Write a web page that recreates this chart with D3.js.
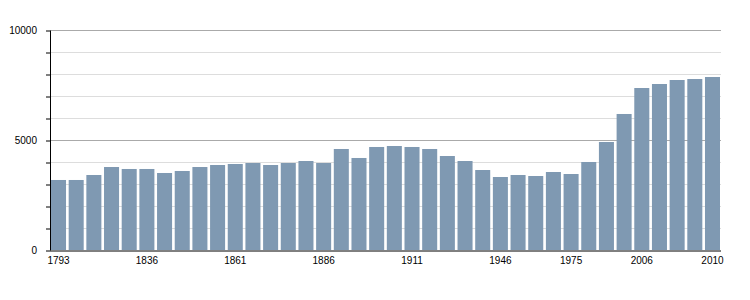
<!DOCTYPE html>
<html>
<head>
<meta charset="utf-8">
<script src="https://cdn.jsdelivr.net/npm/d3@7"></script>
<style>
  body { margin: 0; background: #fff; }
  text { font-family: "Liberation Sans", Arial, sans-serif; }
</style>
</head>
<body>
<div id="chart"></div>
<script>
const years = ["1793", "1800", "1806", "1821", "1831", "1836", "1841", "1846", "1851", "1856",
               "1861", "1866", "1872", "1876", "1881", "1886", "1891", "1896", "1901", "1906",
               "1911", "1921", "1926", "1931", "1936", "1946", "1954", "1962", "1968", "1975",
               "1982", "1990", "1999", "2006", "2007", "2008", "2009", "2010"];
const population = [3205, 3205, 3432, 3795, 3705, 3705, 3523, 3614, 3795, 3886,
                    3932, 3977, 3886, 3977, 4068, 3977, 4614, 4205, 4705, 4750,
                    4705, 4614, 4295, 4068, 3659, 3341, 3432, 3386, 3568, 3477,
                    4023, 4932, 6205, 7386, 7568, 7750, 7795, 7886];
const yearLabels = ["1793", "1836", "1861", "1886", "1911", "1946", "1975", "2006", "2010"];
const yTicks = [0, 5000, 10000];

const width = 750, height = 300;
const plotLeft = 50, plotRight = 721, plotTop = 30.5, plotBottom = 250.5;

const svg = d3.select("#chart")
              .append("svg")
              .attr("width", width)
              .attr("height", height);

const xScale = d3.scaleBand()
                 .domain(years)
                 .range([plotLeft + 1, plotRight - 1])
                 .paddingInner(0.15)
                 .paddingOuter(0);

const yScale = d3.scaleLinear()
                 .domain([0, 10000])
                 .range([plotBottom, plotTop]);

// grid lines every 1000, darker at 5000
svg.append("g")
   .selectAll("line")
   .data(d3.range(1000, 10001, 1000))
   .join("line")
   .attr("x1", plotLeft)
   .attr("x2", plotRight)
   .attr("y1", d => yScale(d))
   .attr("y2", d => yScale(d))
   .attr("stroke", d => d % 5000 === 0 ? "#aaa" : "#ddd")
   .attr("stroke-width", 1);

svg.append("g")
   .selectAll("rect")
   .data(years)
   .join("rect")
   .attr("x", d => xScale(d))
   .attr("y", (d, i) => yScale(population[i]))
   .attr("width", xScale.bandwidth())
   .attr("height", (d, i) => plotBottom - 0.5 - yScale(population[i]))
   .attr("fill", "#7f99b2");

// y axis: minor ticks every 1000, labels at 0/5000/10000
const yAxis = svg.append("g")
                 .attr("transform", `translate(${plotLeft}, 0)`)
                 .call(d3.axisLeft(yScale)
                         .tickValues(d3.range(0, 10001, 1000))
                         .tickSize(4)
                         .tickFormat(d => yTicks.includes(d) ? d : ""));
yAxis.select(".domain").attr("stroke", "#000").attr("d", `M0.5,${plotTop}V${plotBottom}`);
yAxis.selectAll(".tick line").attr("stroke", "#000");
yAxis.selectAll(".tick text")
     .attr("x", -13)
     .attr("fill", "#000")
     .style("font-size", "10px");

// x axis
const xAxis = svg.append("g")
                 .attr("transform", `translate(0, ${plotBottom})`)
                 .call(d3.axisBottom(xScale)
                         .tickValues(yearLabels)
                         .tickSize(0));
xAxis.select(".domain").attr("stroke", "#000").attr("d", `M${plotLeft},0.5H${plotRight}`);
xAxis.selectAll(".tick text")
     .attr("y", 6)
     .attr("fill", "#000")
     .style("font-size", "10px");
</script>
</body>
</html>
